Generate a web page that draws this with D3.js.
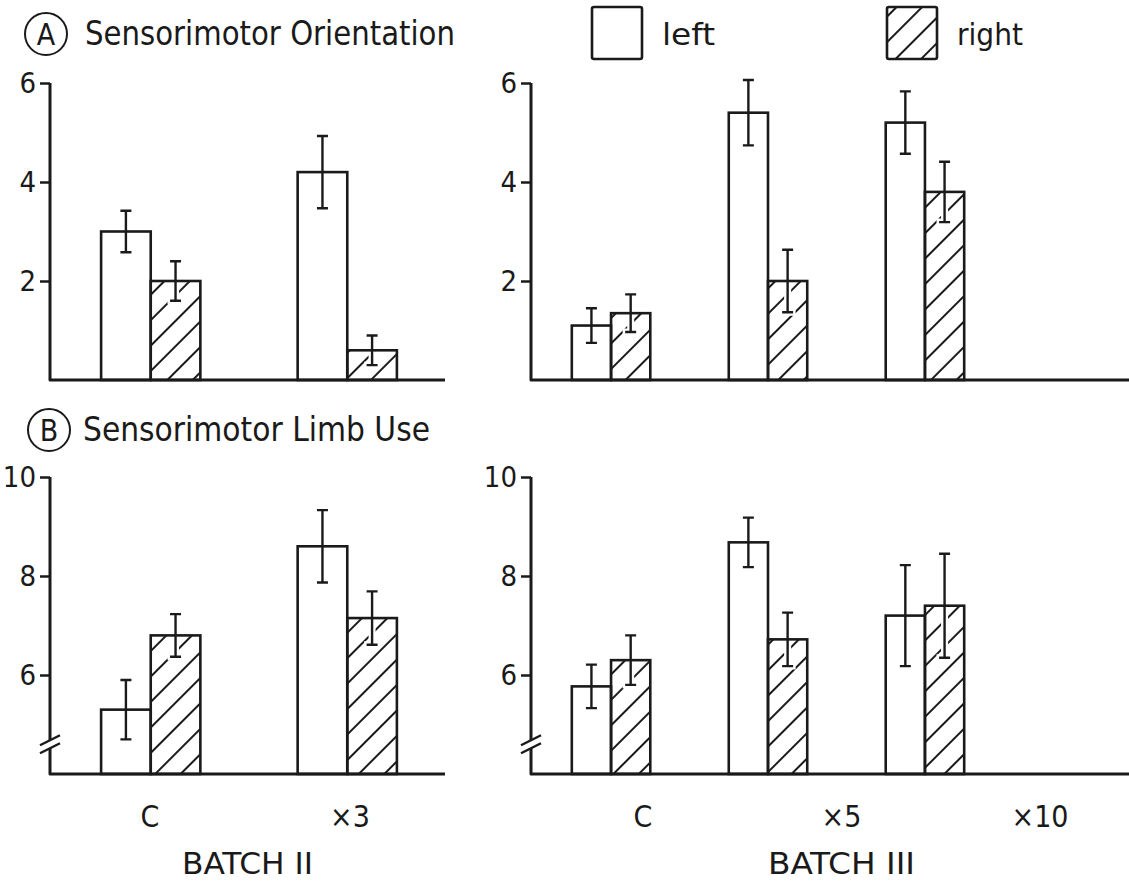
<!DOCTYPE html>
<html lang="en">
<head>
<meta charset="UTF-8">
<title>Sensorimotor Orientation and Limb Use</title>
<script src="https://d3js.org/d3.v7.min.js"></script>
<style>
  body { margin: 0; background: #fff; }
  svg { display: block; font-family: "DejaVu Sans Condensed", "Liberation Sans Narrow", "DejaVu Sans", sans-serif; fill: #1a1a1a; }
  .axis text { font-size: 29px; fill: #1a1a1a; font-family: "DejaVu Sans Condensed", "Liberation Sans Narrow", sans-serif; }
  .axis line { stroke: #1a1a1a; stroke-width: 2.5; }
</style>
</head>
<body>
<script>
const W = 1129, H = 881;

// categories
const batch2Groups = ["C", "×3"];
const batch3Groups = ["C", "×5", "×10"];
const sides = ["left", "right"];
const topTicks = [2, 4, 6];
const bottomTicks = [6, 8, 10];

// A: sensorimotor orientation (mean, s.e.)
const orientB2Left = [3.0, 4.2];
const orientB2LeftSE = [0.42, 0.73];
const orientB2Right = [2.0, 0.6];
const orientB2RightSE = [0.4, 0.3];
const orientB3Left = [1.1, 5.4, 5.2];
const orientB3LeftSE = [0.35, 0.66, 0.63];
const orientB3Right = [1.35, 2.0, 3.8];
const orientB3RightSE = [0.38, 0.63, 0.61];

// B: sensorimotor limb use (mean, s.e.)
const limbB2Left = [5.3, 8.6];
const limbB2LeftSE = [0.6, 0.73];
const limbB2Right = [6.8, 7.15];
const limbB2RightSE = [0.43, 0.54];
const limbB3Left = [5.77, 8.68, 7.2];
const limbB3LeftSE = [0.44, 0.5, 1.02];
const limbB3Right = [6.3, 6.72, 7.4];
const limbB3RightSE = [0.5, 0.54, 1.05];

const svg = d3.select("body").append("svg")
  .attr("width", W)
  .attr("height", H);

const ink = "#1a1a1a";

// hatch for the "right" bars
svg.append("defs").append("pattern")
  .attr("id", "hatch")
  .attr("patternUnits", "userSpaceOnUse")
  .attr("width", 18)
  .attr("height", 18)
  .attr("patternTransform", "rotate(45)")
  .append("line")
  .attr("x1", 9).attr("y1", -1)
  .attr("x2", 9).attr("y2", 19)
  .attr("stroke", ink)
  .attr("stroke-width", 2);

// scales
const xB2 = d3.scaleBand().domain(batch2Groups).range([50, 448]).paddingInner(0.495).paddingOuter(0.26);
const xB3 = d3.scaleBand().domain(batch3Groups).range([531, 1005]).paddingInner(0.5).paddingOuter(0.26);
const labelB2 = d3.scalePoint().domain(batch2Groups).range([150, 350]);
const labelB3 = d3.scalePoint().domain(batch3Groups).range([643, 1040]);
const yTop = d3.scaleLinear().domain([0, 6]).range([380, 83]);
const yBot = d3.scaleLinear().domain([4, 10]).range([774, 477]);

function rows(groups, l, lse, r, rse) {
  const out = [];
  groups.forEach((g, i) => {
    out.push({ group: g, side: "left", value: l[i], se: lse[i] });
    out.push({ group: g, side: "right", value: r[i], se: rse[i] });
  });
  return out;
}

const panels = [
  { x: xB2, y: yTop, ticks: topTicks, axisX: 50, axisEnd: 445, brk: null,
    data: rows(batch2Groups, orientB2Left, orientB2LeftSE, orientB2Right, orientB2RightSE) },
  { x: xB3, y: yTop, ticks: topTicks, axisX: 531, axisEnd: 1129, brk: null,
    data: rows(batch3Groups, orientB3Left, orientB3LeftSE, orientB3Right, orientB3RightSE) },
  { x: xB2, y: yBot, ticks: bottomTicks, axisX: 50, axisEnd: 445, brk: 4.6,
    data: rows(batch2Groups, limbB2Left, limbB2LeftSE, limbB2Right, limbB2RightSE) },
  { x: xB3, y: yBot, ticks: bottomTicks, axisX: 531, axisEnd: 1129, brk: 4.6,
    data: rows(batch3Groups, limbB3Left, limbB3LeftSE, limbB3Right, limbB3RightSE) }
];

function drawPanel(p) {
  const g = svg.append("g");
  const xs = d3.scaleBand().domain(sides).range([0, p.x.bandwidth()]);
  const y0 = p.y.domain()[0];
  const bx = d => p.x(d.group) + xs(d.side);
  const cx = d => bx(d) + xs.bandwidth() / 2;

  // bar fills
  g.selectAll(".fill").data(p.data).enter().append("rect")
    .attr("x", bx)
    .attr("y", d => p.y(d.value))
    .attr("width", xs.bandwidth())
    .attr("height", d => p.y(y0) - p.y(d.value))
    .attr("fill", d => d.side === "left" ? "#fff" : "url(#hatch)");

  // white halo so hatch lines break round the error bars
  g.selectAll(".halo").data(p.data.filter(d => d.side === "right")).enter().append("path")
    .attr("d", d => {
      const c = cx(d), lo = p.y(d.value - d.se);
      return `M${c},${p.y(d.value)}V${lo}M${c - 8},${lo}H${c + 8}`;
    })
    .attr("stroke", "#fff")
    .attr("stroke-width", 7)
    .attr("fill", "none");

  // bar outlines
  g.selectAll(".outline").data(p.data).enter().append("rect")
    .attr("x", bx)
    .attr("y", d => p.y(d.value))
    .attr("width", xs.bandwidth())
    .attr("height", d => p.y(y0) - p.y(d.value))
    .attr("fill", "none")
    .attr("stroke", ink)
    .attr("stroke-width", 2.6);

  // error bars
  g.selectAll(".err").data(p.data).enter().append("path")
    .attr("d", d => {
      const c = cx(d), hi = p.y(d.value + d.se), lo = p.y(d.value - d.se);
      return `M${c},${hi}V${lo}M${c - 5.5},${hi}H${c + 5.5}M${c - 5.5},${lo}H${c + 5.5}`;
    })
    .attr("stroke", ink)
    .attr("stroke-width", 2.4)
    .attr("fill", "none");

  // y axis ticks and labels
  const ax = g.append("g")
    .attr("class", "axis")
    .attr("transform", `translate(${p.axisX},0)`)
    .call(d3.axisLeft(p.y).tickValues(p.ticks).tickSize(10).tickSizeOuter(0).tickPadding(4).tickFormat(d3.format("d")));
  ax.select(".domain").remove();

  // axis line (with break for truncated scale) and baseline
  const top = p.y(p.y.domain()[1]);
  const base = p.y(y0);
  let d = `M${p.axisX},${top}`;
  if (p.brk !== null) {
    const c = p.y(p.brk);
    d += `V${c - 4}M${p.axisX},${c + 4}`;
    [c - 4, c + 4].forEach(yc => {
      g.append("line")
        .attr("x1", p.axisX - 10).attr("y1", yc + 5)
        .attr("x2", p.axisX + 10).attr("y2", yc - 5)
        .attr("stroke", ink).attr("stroke-width", 2.4);
    });
  }
  d += `V${base}H${p.axisEnd}`;
  g.append("path")
    .attr("d", d)
    .attr("fill", "none")
    .attr("stroke", ink)
    .attr("stroke-width", 3)
    .attr("stroke-linejoin", "round");
}

panels.forEach(drawPanel);

// panel titles
function circled(letter, cx, cy) {
  svg.append("circle").attr("cx", cx).attr("cy", cy).attr("r", 21)
    .attr("fill", "none").attr("stroke", ink).attr("stroke-width", 2);
  svg.append("text").attr("x", cx).attr("y", cy + 11)
    .attr("text-anchor", "middle").attr("font-size", 30).text(letter);
}
circled("A", 46, 34);
svg.append("text").attr("x", 85).attr("y", 45).attr("font-size", 33)
  .attr("textLength", 370).attr("lengthAdjust", "spacingAndGlyphs")
  .text("Sensorimotor  Orientation");
circled("B", 49, 430);
svg.append("text").attr("x", 83).attr("y", 441).attr("font-size", 33)
  .attr("textLength", 347).attr("lengthAdjust", "spacingAndGlyphs")
  .text("Sensorimotor  Limb  Use");

// legend
const legendX = d3.scalePoint().domain(sides).range([592, 887]);
const legendLen = { left: 53, right: 66 };
sides.forEach(s => {
  svg.append("rect")
    .attr("x", legendX(s)).attr("y", 7)
    .attr("width", 50).attr("height", 52).attr("rx", 2)
    .attr("fill", s === "left" ? "#fff" : "url(#hatch)")
    .attr("stroke", ink).attr("stroke-width", 2.6);
  svg.append("text")
    .attr("x", legendX(s) + 70).attr("y", 45)
    .attr("font-size", 31)
    .attr("textLength", legendLen[s]).attr("lengthAdjust", "spacingAndGlyphs")
    .text(s);
});

// category labels
batch2Groups.forEach(c => {
  svg.append("text").attr("x", labelB2(c)).attr("y", 827)
    .attr("text-anchor", "middle").attr("font-size", 30).text(c);
});
batch3Groups.forEach(c => {
  svg.append("text").attr("x", labelB3(c)).attr("y", 827)
    .attr("text-anchor", "middle").attr("font-size", 30).text(c);
});

// batch labels
svg.append("text").attr("x", 182).attr("y", 874).attr("font-size", 31)
  .attr("textLength", 131).attr("lengthAdjust", "spacingAndGlyphs").text("BATCH II");
svg.append("text").attr("x", 768).attr("y", 874).attr("font-size", 31)
  .attr("textLength", 147).attr("lengthAdjust", "spacingAndGlyphs").text("BATCH III");
</script>
</body>
</html>
